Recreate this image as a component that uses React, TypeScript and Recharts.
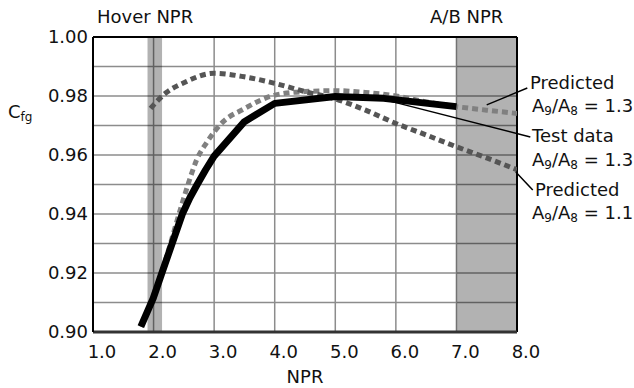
import React from "react";
import {
  ComposedChart,
  Line,
  XAxis,
  YAxis,
  CartesianGrid,
  ReferenceArea,
  ReferenceLine,
} from "recharts";

// NPR axis ticks and Cfg gridline values
const xTicks = [1, 2, 3, 4, 5, 6, 7, 8];
const yTicks = [0.9, 0.91, 0.92, 0.93, 0.94, 0.95, 0.96, 0.97, 0.98, 0.99, 1.0];

// Predicted, A9/A8 = 1.3
const pred13 = [
  { x: 1.79, y: 0.9018 },
  { x: 2.0, y: 0.9118 },
  { x: 2.2, y: 0.9245 },
  { x: 2.44, y: 0.9414 },
  { x: 2.575, y: 0.9504 },
  { x: 2.71, y: 0.9583 },
  { x: 2.88, y: 0.9643 },
  { x: 3.15, y: 0.9713 },
  { x: 3.48, y: 0.9755 },
  { x: 4.0, y: 0.9803 },
  { x: 4.5, y: 0.9815 },
  { x: 5.0, y: 0.9818 },
  { x: 5.5, y: 0.9812 },
  { x: 6.0, y: 0.98 },
  { x: 6.5, y: 0.978 },
  { x: 7.0, y: 0.9764 },
  { x: 7.5, y: 0.9752 },
  { x: 8.0, y: 0.9741 },
];

// Predicted, A9/A8 = 1.1
const pred11 = [
  { x: 1.95, y: 0.9758 },
  { x: 2.2, y: 0.981 },
  { x: 2.5, y: 0.9845 },
  { x: 3.0, y: 0.9877 },
  { x: 3.5, y: 0.9865 },
  { x: 4.0, y: 0.9843 },
  { x: 4.5, y: 0.9815 },
  { x: 5.0, y: 0.979 },
  { x: 5.5, y: 0.9752 },
  { x: 6.0, y: 0.9707 },
  { x: 6.5, y: 0.9668 },
  { x: 7.0, y: 0.9628 },
  { x: 7.5, y: 0.959 },
  { x: 8.0, y: 0.955 },
];

// Test data, A9/A8 = 1.3
const testData = [
  { x: 1.79, y: 0.9018 },
  { x: 1.995, y: 0.9115 },
  { x: 2.145, y: 0.9205 },
  { x: 2.31, y: 0.9302 },
  { x: 2.475, y: 0.94 },
  { x: 2.6, y: 0.9455 },
  { x: 2.72, y: 0.95 },
  { x: 2.86, y: 0.955 },
  { x: 3.0, y: 0.9596 },
  { x: 3.5, y: 0.9713 },
  { x: 4.0, y: 0.9775 },
  { x: 5.0, y: 0.9798 },
  { x: 5.8, y: 0.9792 },
  { x: 7.0, y: 0.9764 },
];

// shaded NPR ranges
const hoverBand = [1.9, 2.14];
const abBand = [7.0, 8.0];

const FONT = "'DejaVu Sans', Verdana, sans-serif";

function Ratio({ x, y, value }: { x: number; y: number; value: string }) {
  return (
    <text x={x} y={y} fontSize={18} fill="#111" fontFamily={FONT}>
      A
      <tspan fontSize={12} dy={3}>9</tspan>
      <tspan dy={-3}>/A</tspan>
      <tspan fontSize={12} dy={3}>8</tspan>
      <tspan dy={-3}>{` = ${value}`}</tspan>
    </text>
  );
}

export default function App() {
  return (
    <div style={{ position: "relative", width: 634, height: 388, background: "#fff" }}>
      <style>{`body{margin:0}`}</style>
      <ComposedChart
        width={634}
        height={388}
        margin={{ top: 37, right: 117, left: 33, bottom: 16 }}
        style={{ fontFamily: FONT }}
      >
        <CartesianGrid stroke="#8c8c8c" strokeWidth={1.5} />
        <ReferenceArea x1={hoverBand[0]} x2={hoverBand[1]} fill="#000" fillOpacity={0.3} stroke="none" />
        <ReferenceArea x1={abBand[0]} x2={abBand[1]} fill="#000" fillOpacity={0.3} stroke="none" />
        <XAxis
          type="number"
          dataKey="x"
          domain={[1, 8]}
          ticks={xTicks}
          allowDataOverflow
          height={40}
          tickFormatter={(v: number) => v.toFixed(1)}
          tickLine={false}
          tickSize={0}
          tickMargin={13}
          tick={{ fill: "#111", fontSize: 18, dx: 9, fontFamily: FONT }}
          axisLine={{ stroke: "#333", strokeWidth: 3 }}
        />
        <YAxis
          type="number"
          domain={[0.9, 1.0]}
          ticks={yTicks}
          allowDataOverflow
          width={60}
          tickFormatter={(v: number) => (Math.round(v * 100) % 2 === 0 ? v.toFixed(2) : "")}
          tickLine={false}
          tickSize={0}
          tickMargin={5}
          tick={{ fill: "#111", fontSize: 18, fontFamily: FONT }}
          axisLine={{ stroke: "#000", strokeWidth: 2 }}
        />
        <ReferenceLine y={1.0} stroke="#000" strokeWidth={2} />
        <ReferenceLine x={8} stroke="#000" strokeWidth={2} />
        <Line
          data={pred13}
          dataKey="y"
          type="monotone"
          stroke="#808080"
          strokeWidth={5}
          strokeDasharray="6 4"
          dot={false}
          isAnimationActive={false}
        />
        <Line
          data={pred11}
          dataKey="y"
          type="monotone"
          stroke="#555"
          strokeWidth={5}
          strokeDasharray="6 4"
          dot={false}
          isAnimationActive={false}
        />
        <Line
          data={testData}
          dataKey="y"
          type="linear"
          stroke="#000"
          strokeWidth={7}
          strokeLinejoin="round"
          dot={false}
          isAnimationActive={false}
        />
        {/* leader lines to the annotations */}
        <ReferenceLine
          segment={[{ x: 7.5, y: 0.977 }, { x: 8.17, y: 0.9827 }]}
          stroke="#000"
          strokeWidth={1.5}
          ifOverflow="visible"
        />
        <ReferenceLine
          segment={[{ x: 5.84, y: 0.9786 }, { x: 8.22, y: 0.9661 }]}
          stroke="#000"
          strokeWidth={1.5}
          ifOverflow="visible"
        />
        <ReferenceLine
          segment={[{ x: 7.98, y: 0.9542 }, { x: 8.26, y: 0.9481 }]}
          stroke="#000"
          strokeWidth={1.5}
          ifOverflow="visible"
        />
      </ComposedChart>
      <svg
        width={634}
        height={388}
        style={{ position: "absolute", left: 0, top: 0, pointerEvents: "none" }}
      >
        <g fontFamily={FONT} fill="#111">
          <text x={97} y={23} fontSize={18}>Hover NPR</text>
          <text x={430} y={23} fontSize={18}>A/B NPR</text>
          <text x={305} y={383} fontSize={18} textAnchor="middle">NPR</text>
          <text x={8} y={118} fontSize={18}>
            C<tspan fontSize={12} dy={3}>fg</tspan>
          </text>
          <text x={530} y={89} fontSize={18}>Predicted</text>
          <Ratio x={532} y={112} value="1.3" />
          <text x={532} y={142} fontSize={18}>Test data</text>
          <Ratio x={532} y={166} value="1.3" />
          <text x={535} y={196} fontSize={18}>Predicted</text>
          <Ratio x={532} y={219} value="1.1" />
        </g>
      </svg>
    </div>
  );
}
